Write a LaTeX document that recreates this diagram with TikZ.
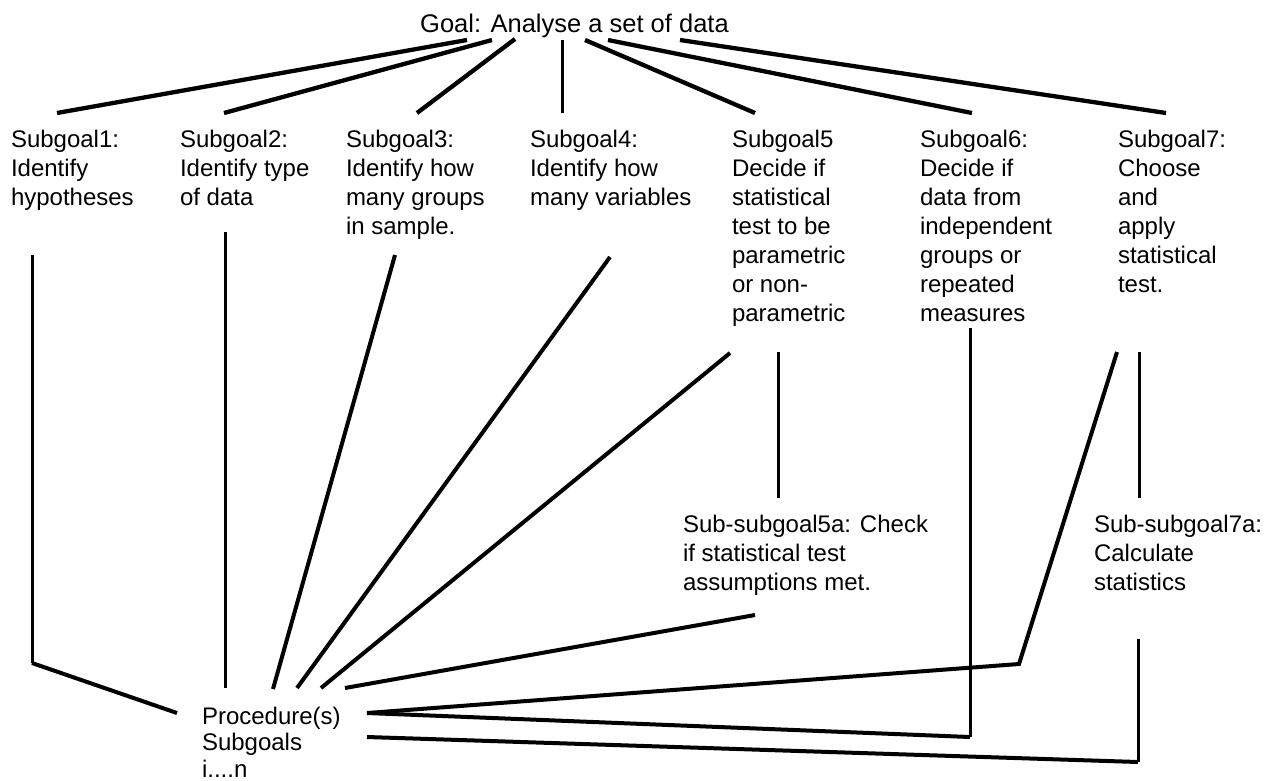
\documentclass[tikz,border=0pt]{standalone}
\usepackage{fontspec}
\setmainfont{Liberation Sans}
\begin{document}
\begin{tikzpicture}[x=1pt,y=-1pt,
  lbl/.style={anchor=north west,inner sep=0pt,outer sep=0pt,align=left,font=\fontsize{24}{29}\selectfont},
  conn/.style={line width=4pt},
  vconn/.style={line width=3pt},
  fan/.style={line width=4.3pt}]
\useasboundingbox (0,0) rectangle (1268,780);
% texts
\node[anchor=base west,inner sep=0pt,font=\fontsize{25.5}{30}\selectfont] (goal) at (420,32) {Goal: Analyse a set of data};
\node[lbl] (s1) at (11,130) {Subgoal1:\\Identify\\hypotheses};
\node[lbl] (s2) at (180,130) {Subgoal2:\\Identify type\\of data};
\node[lbl] (s3) at (346,130) {Subgoal3:\\Identify how\\many groups\\in sample.};
\node[lbl] (s4) at (530,130) {Subgoal4:\\Identify how\\many variables};
\node[lbl] (s5) at (732,130) {Subgoal5\\Decide if\\statistical\\test to be\\parametric\\or non-\\parametric};
\node[lbl] (s6) at (920,130) {Subgoal6:\\Decide if\\data from\\independent\\groups or\\repeated\\measures};
\node[lbl] (s7) at (1118,130) {Subgoal7:\\Choose\\and\\apply\\statistical\\test.};
\node[lbl] (ss5a) at (683,515) {Sub-subgoal5a: Check\\if statistical test\\assumptions met.};
\node[lbl] (ss7a) at (1094,515) {Sub-subgoal7a:\\Calculate\\statistics};
\node[lbl,font=\fontsize{24}{26.5}\selectfont] (proc) at (202,707) {Procedure(s)\\Subgoals\\i....n};
% coordinates: top fan
\coordinate (g1s) at (467,40);  \coordinate (g1e) at (57,113);
\coordinate (g2s) at (492,40);  \coordinate (g2e) at (224,113);
\coordinate (g3s) at (515,39);  \coordinate (g3e) at (417,113);
\coordinate (g4s) at (562,40);  \coordinate (g4e) at (562,113);
\coordinate (g5s) at (585,40);  \coordinate (g5e) at (755,113);
\coordinate (g6s) at (608,40);  \coordinate (g6e) at (972,113);
\coordinate (g7s) at (680,40);  \coordinate (g7e) at (1166,113);
% lower coordinates
\coordinate (a1) at (32,255);   \coordinate (a1c) at (32,663);  \coordinate (p1) at (177,713);
\coordinate (a2) at (225,232);  \coordinate (p2) at (225,688);
\coordinate (a3) at (395,255);  \coordinate (p3) at (273,689);
\coordinate (a4) at (610,257);  \coordinate (p4) at (297,688);
\coordinate (a5) at (730,353);  \coordinate (p5) at (321,688);
\coordinate (b5) at (778,352);  \coordinate (b5e) at (778,498);
\coordinate (c5) at (755,615);  \coordinate (p6) at (345,688);
\coordinate (a6) at (970,328);  \coordinate (a6c) at (970,737); \coordinate (pr1) at (367,713);
\coordinate (a7) at (1117,352); \coordinate (a7c) at (1019,664);
\coordinate (b7) at (1139,352); \coordinate (b7e) at (1139,498);
\coordinate (c7) at (1138,639); \coordinate (c7c) at (1138,762); \coordinate (pr2) at (367,737);
% connectors
\draw[fan] (g1s) -- (g1e);
\draw[fan] (g2s) -- (g2e);
\draw[fan] (g3s) -- (g3e);
\draw[vconn] (g4s) -- (g4e);
\draw[fan] (g5s) -- (g5e);
\draw[fan] (g6s) -- (g6e);
\draw[fan] (g7s) -- (g7e);
\draw[vconn] (a1) -- (a1c);
\draw[conn] (a1c) -- (p1);
\draw[vconn] (a2) -- (p2);
\draw[conn] (a3) -- (p3);
\draw[conn] (a4) -- (p4);
\draw[conn] (a5) -- (p5);
\draw[vconn] (b5) -- (b5e);
\draw[conn] (c5) -- (p6);
\draw[vconn] (a6) -- (a6c);
\draw[conn] (a6c) -- (pr1);
\draw[conn] (a7) -- (a7c) -- (pr1);
\draw[vconn] (b7) -- (b7e);
\draw[vconn] (c7) -- (c7c);
\draw[conn] (c7c) -- (pr2);
\end{tikzpicture}
\end{document}
